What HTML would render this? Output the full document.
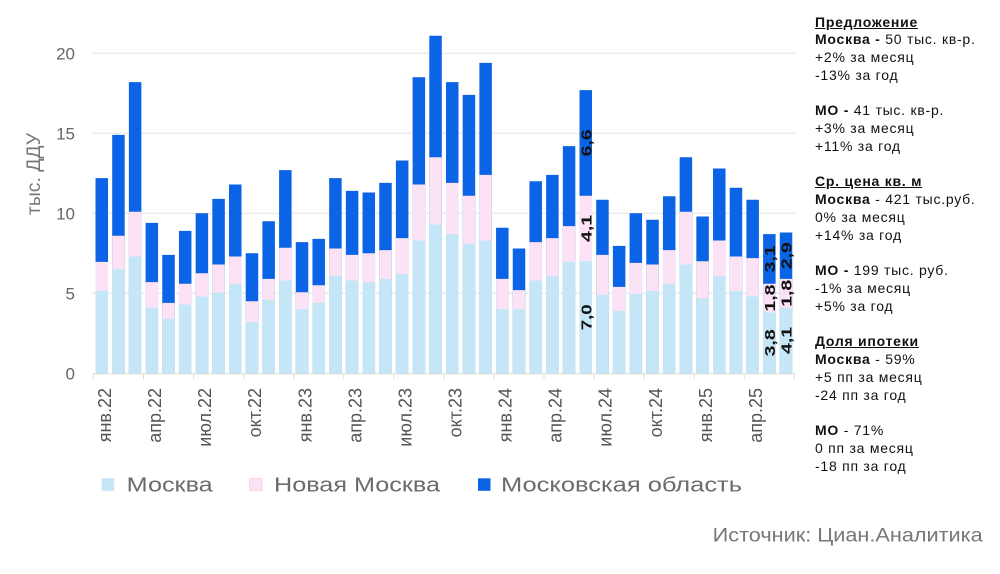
<!DOCTYPE html>
<html><head><meta charset="utf-8"><style>
html,body{margin:0;padding:0;background:#fff;}
body{width:1000px;height:574px;position:relative;overflow:hidden;font-family:"Liberation Sans","DejaVu Sans",sans-serif;}
svg{position:absolute;left:0;top:0;}
.panel{position:absolute;left:815px;top:13.5px;font-size:14px;line-height:17.76px;letter-spacing:0.75px;color:#111;white-space:nowrap;}
.panel b{font-weight:bold;}
.panel u{font-weight:bold;text-decoration:underline;}
</style></head><body>
<svg width="1000" height="574" viewBox="0 0 1000 574" xmlns="http://www.w3.org/2000/svg" font-family="Liberation Sans, DejaVu Sans, sans-serif">
<!-- grid -->
<g stroke="#e3e3e3" stroke-width="1">
<line x1="92" x2="795" y1="53.3" y2="53.3"/>
<line x1="92" x2="795" y1="133.3" y2="133.3"/>
<line x1="92" x2="795" y1="213.3" y2="213.3"/>
<line x1="92" x2="795" y1="293.3" y2="293.3"/>
</g>
<!-- y tick labels -->
<g font-size="17" fill="#666" text-anchor="end">
<text x="75" y="59.3">20</text>
<text x="75" y="139.3">15</text>
<text x="75" y="219.3">10</text>
<text x="75" y="299.3">5</text>
<text x="75" y="379.3">0</text>
</g>
<text transform="translate(40,174) rotate(-90)" font-size="19" fill="#777" text-anchor="middle" textLength="82" lengthAdjust="spacingAndGlyphs">тыс. ДДУ</text>
<!-- bars: blue total -->
<path stroke="#0b63e5" stroke-width="12.5" fill="none" d="M101.75 373.3V178.1M118.44 373.3V134.9M135.13 373.3V82.1M151.82 373.3V222.9M168.51 373.3V254.9M185.2 373.3V230.9M201.89 373.3V213.3M218.58 373.3V198.9M235.27 373.3V184.5M251.96 373.3V253.3M268.65 373.3V221.3M285.34 373.3V170.1M302.03 373.3V242.1M318.72 373.3V238.9M335.41 373.3V178.1M352.1 373.3V190.9M368.79 373.3V192.5M385.48 373.3V182.9M402.17 373.3V160.5M418.86 373.3V77.3M435.55 373.3V35.7M452.24 373.3V82.1M468.93 373.3V94.9M485.62 373.3V62.9M502.31 373.3V227.7M519 373.3V248.5M535.69 373.3V181.3M552.38 373.3V174.9M569.07 373.3V146.1M585.76 373.3V90.1M602.45 373.3V199.7M619.14 373.3V245.9M635.83 373.3V213.3M652.52 373.3V219.7M669.21 373.3V196.3M685.9 373.3V157.3M702.59 373.3V216.5M719.28 373.3V168.5M735.97 373.3V187.7M752.66 373.3V199.7M769.35 373.3V234.1M786.04 373.3V232.5"/>
<!-- pink -->
<path stroke="#fce2f5" stroke-width="12.5" fill="none" d="M101.75 373.3V261.9M118.44 373.3V235.7M135.13 373.3V211.7M151.82 373.3V282.1M168.51 373.3V302.9M185.2 373.3V283.7M201.89 373.3V273.3M218.58 373.3V264.5M235.27 373.3V256.5M251.96 373.3V301.3M268.65 373.3V278.9M285.34 373.3V247.7M302.03 373.3V292.3M318.72 373.3V285.3M335.41 373.3V248.5M352.1 373.3V254.9M368.79 373.3V253.3M385.48 373.3V250.1M402.17 373.3V238.1M418.86 373.3V184.5M435.55 373.3V157.3M452.24 373.3V182.9M468.93 373.3V195.7M485.62 373.3V174.9M502.31 373.3V278.9M519 373.3V290.1M535.69 373.3V242.1M552.38 373.3V238.1M569.07 373.3V226.1M585.76 373.3V195.7M602.45 373.3V254.9M619.14 373.3V286.9M635.83 373.3V262.9M652.52 373.3V264.5M669.21 373.3V250.1M685.9 373.3V211.7M702.59 373.3V261.3M719.28 373.3V240.5M735.97 373.3V256.5M752.66 373.3V258.1M769.35 373.3V283.7M786.04 373.3V278.9"/>
<!-- light blue -->
<path stroke="#c5e6f7" stroke-width="12.5" fill="none" d="M101.75 373.3V290.9M118.44 373.3V269.3M135.13 373.3V256.5M151.82 373.3V307.7M168.51 373.3V318.9M185.2 373.3V304.5M201.89 373.3V296.5M218.58 373.3V292.5M235.27 373.3V283.7M251.96 373.3V322.1M268.65 373.3V299.7M285.34 373.3V280.5M302.03 373.3V309.3M318.72 373.3V302.9M335.41 373.3V275.7M352.1 373.3V280.5M368.79 373.3V282.1M385.48 373.3V278.9M402.17 373.3V274.1M418.86 373.3V240.5M435.55 373.3V224.5M452.24 373.3V234.1M468.93 373.3V243.7M485.62 373.3V240.5M502.31 373.3V309.3M519 373.3V309.3M535.69 373.3V280.5M552.38 373.3V276.3M569.07 373.3V261.9M585.76 373.3V261.3M602.45 373.3V294.9M619.14 373.3V310.9M635.83 373.3V293.9M652.52 373.3V290.9M669.21 373.3V283.7M685.9 373.3V264.5M702.59 373.3V298.1M719.28 373.3V276.3M735.97 373.3V290.9M752.66 373.3V296.5M769.35 373.3V312.5M786.04 373.3V307.7"/>
<!-- axis -->
<line x1="92" x2="795" y1="373.8" y2="373.8" stroke="#dcdcdc" stroke-width="1"/>
<path stroke="#dcdcdc" stroke-width="1" d="M93.4 373.8V379M143.5 373.8V379M193.5 373.8V379M243.6 373.8V379M293.7 373.8V379M343.7 373.8V379M393.8 373.8V379M443.9 373.8V379M493.9 373.8V379M544 373.8V379M594.1 373.8V379M644.1 373.8V379M694.2 373.8V379M744.3 373.8V379M794.3 373.8V379"/>
<!-- bar value labels -->
<g font-size="15" font-weight="bold" fill="#111" text-anchor="middle">
<text transform="translate(591.3,142.9) rotate(-90)" textLength="27" lengthAdjust="spacingAndGlyphs">6,6</text>
<text transform="translate(591.3,228.5) rotate(-90)" textLength="27" lengthAdjust="spacingAndGlyphs">4,1</text>
<text transform="translate(591.3,317.3) rotate(-90)" textLength="26" lengthAdjust="spacingAndGlyphs">7,0</text>
<text transform="translate(774.9,258.9) rotate(-90)" textLength="27" lengthAdjust="spacingAndGlyphs">3,1</text>
<text transform="translate(774.9,298.1) rotate(-90)" textLength="27" lengthAdjust="spacingAndGlyphs">1,8</text>
<text transform="translate(774.9,342.9) rotate(-90)" textLength="27" lengthAdjust="spacingAndGlyphs">3,8</text>
<text transform="translate(791.6,255.7) rotate(-90)" textLength="27" lengthAdjust="spacingAndGlyphs">2,9</text>
<text transform="translate(791.6,293.3) rotate(-90)" textLength="27" lengthAdjust="spacingAndGlyphs">1,8</text>
<text transform="translate(791.6,340.5) rotate(-90)" textLength="27" lengthAdjust="spacingAndGlyphs">4,1</text>
</g>
<!-- x labels -->
<g font-size="18" fill="#555" text-anchor="end">
<text transform="translate(111,388) rotate(-90)">янв.22</text>
<text transform="translate(161.1,388) rotate(-90)">апр.22</text>
<text transform="translate(211.1,388) rotate(-90)">июл.22</text>
<text transform="translate(261.2,388) rotate(-90)">окт.22</text>
<text transform="translate(311.3,388) rotate(-90)">янв.23</text>
<text transform="translate(361.4,388) rotate(-90)">апр.23</text>
<text transform="translate(411.4,388) rotate(-90)">июл.23</text>
<text transform="translate(461.5,388) rotate(-90)">окт.23</text>
<text transform="translate(511.6,388) rotate(-90)">янв.24</text>
<text transform="translate(561.6,388) rotate(-90)">апр.24</text>
<text transform="translate(611.7,388) rotate(-90)">июл.24</text>
<text transform="translate(661.8,388) rotate(-90)">окт.24</text>
<text transform="translate(711.9,388) rotate(-90)">янв.25</text>
<text transform="translate(761.9,388) rotate(-90)">апр.25</text>
</g>
<!-- legend -->
<rect x="101.7" y="478.3" width="12.5" height="12.5" fill="#c5e6f7"/>
<text x="126.7" y="491.7" font-size="20" fill="#6b6b6b" textLength="86" lengthAdjust="spacingAndGlyphs">Москва</text>
<rect x="249.5" y="478.3" width="12.5" height="12.5" fill="#fce2f5" stroke="#f3d3ec" stroke-width="0.8"/>
<text x="274" y="491.7" font-size="20" fill="#6b6b6b" textLength="166" lengthAdjust="spacingAndGlyphs">Новая Москва</text>
<rect x="478" y="478.3" width="12.5" height="12.5" fill="#0b63e5"/>
<text x="501" y="491.7" font-size="20" fill="#6b6b6b" textLength="241" lengthAdjust="spacingAndGlyphs">Московская область</text>
<!-- source -->
<text x="712.7" y="541.7" font-size="19" fill="#777" textLength="270" lengthAdjust="spacingAndGlyphs">Источник: Циан.Аналитика</text>
</svg>
<div class="panel">
<div><u>Предложение</u></div>
<div><b>Москва -</b> 50 тыс. кв-р.</div>
<div>+2% за месяц</div>
<div>-13% за год</div>
<div>&nbsp;</div>
<div><b>МО -</b> 41 тыс. кв-р.</div>
<div>+3% за месяц</div>
<div>+11% за год</div>
<div>&nbsp;</div>
<div><u>Ср. цена кв. м</u></div>
<div><b>Москва</b> - 421 тыс.руб.</div>
<div>0% за месяц</div>
<div>+14% за год</div>
<div>&nbsp;</div>
<div><b>МО -</b> 199 тыс. руб.</div>
<div>-1% за месяц</div>
<div>+5% за год</div>
<div>&nbsp;</div>
<div><u>Доля ипотеки</u></div>
<div><b>Москва</b> - 59%</div>
<div>+5 пп за месяц</div>
<div>-24 пп за год</div>
<div>&nbsp;</div>
<div><b>МО</b> - 71%</div>
<div>0 пп за месяц</div>
<div>-18 пп за год</div>
</div>
</body></html>
